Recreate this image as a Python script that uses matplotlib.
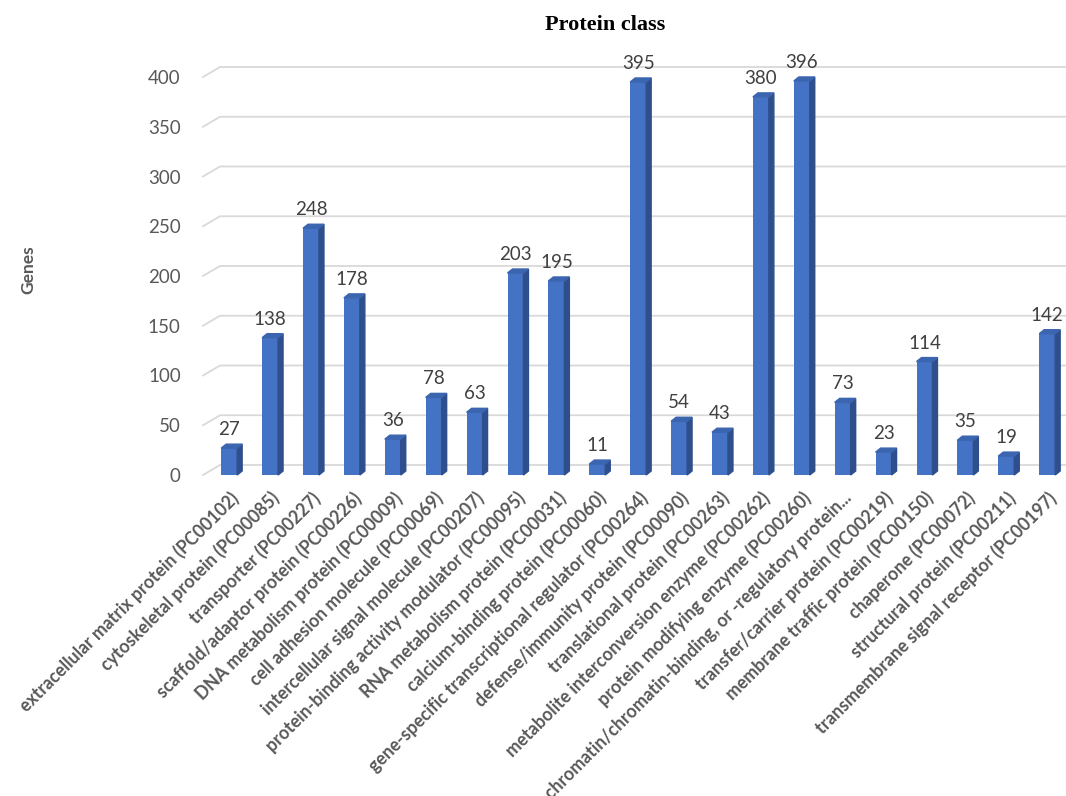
import matplotlib
matplotlib.use("Agg")
import matplotlib.pyplot as plt
from matplotlib.patches import Polygon

categories = [
    "extracellular matrix protein (PC00102)",
    "cytoskeletal protein (PC00085)",
    "transporter (PC00227)",
    "scaffold/adaptor protein (PC00226)",
    "DNA metabolism protein (PC00009)",
    "cell adhesion molecule (PC00069)",
    "intercellular signal molecule (PC00207)",
    "protein-binding activity modulator (PC00095)",
    "RNA metabolism protein (PC00031)",
    "calcium-binding protein (PC00060)",
    "gene-specific transcriptional regulator (PC00264)",
    "defense/immunity protein (PC00090)",
    "translational protein (PC00263)",
    "metabolite interconversion enzyme (PC00262)",
    "protein modifying enzyme (PC00260)",
    "chromatin/chromatin-binding, or -regulatory protein...",
    "transfer/carrier protein (PC00219)",
    "membrane traffic protein (PC00150)",
    "chaperone (PC00072)",
    "structural protein (PC00211)",
    "transmembrane signal receptor (PC00197)",
]
genes = [27, 138, 248, 178, 36, 78, 63, 203, 195, 11, 395,
         54, 43, 380, 396, 73, 23, 114, 35, 19, 142]
yticks = [0, 50, 100, 150, 200, 250, 300, 350, 400]

W, H = 1066, 796
fig = plt.figure(figsize=(W / 100, H / 100), dpi=100)
ax = fig.add_axes([203 / W, 321 / H, (W - 203) / W, 398 / H])
x0, x1 = -0.64, 20.46
ax.set_xlim(x0, x1)
ax.set_ylim(0, 400)
for s in ax.spines.values():
    s.set_visible(False)

# pixel -> data unit conversions for the pseudo-3D depth
ux = (x1 - x0) / (W - 203)
uy = 400 / 398
wall_dx, wall_dy = 17 * ux, 10 * uy
bar_dx, bar_dy = 5 * ux, 4 * uy

grid_c = "#D9D9D9"
for t in yticks:
    ax.plot([x0, x0 + wall_dx, x1 + 1], [t, t + wall_dy, t + wall_dy],
            color=grid_c, lw=1.3, clip_on=False, zorder=0)

front_c, side_c, top_c = "#4472C4", "#2E4F8C", "#3C65B0"
bw = 0.39
xs = list(range(len(categories)))
ax.bar(xs, genes, width=bw, color=front_c, zorder=2)
for x, v in zip(xs, genes):
    l, r = x - bw / 2, x + bw / 2
    ax.add_patch(Polygon([(r, 0), (r + bar_dx, bar_dy), (r + bar_dx, v + bar_dy), (r, v)],
                         closed=True, color=side_c, zorder=2, clip_on=False))
    ax.add_patch(Polygon([(l, v), (l + bar_dx, v + bar_dy), (r + bar_dx, v + bar_dy), (r, v)],
                         closed=True, color=top_c, zorder=2, clip_on=False))
    ax.text(x, v + bar_dy + 6, str(v), ha="center", va="bottom",
            fontsize=13.5, color="#404040", family="Lato")

ax.set_yticks(yticks)
ax.set_yticklabels([str(t) for t in yticks], fontsize=13.5, color="#595959", family="Lato")
ax.tick_params(axis="y", length=0, pad=16)
ax.set_xticks(xs)
ax.set_xticklabels(categories, rotation=45, ha="right", rotation_mode="anchor",
                   fontsize=12.7, color="#595959", family="Lato", fontweight="bold")
ax.tick_params(axis="x", length=0, pad=10)

fig.text(28 / W, 1 - 270 / H, "Genes", rotation=90, ha="center", va="center",
         fontsize=12.5, fontweight="bold", color="#595959", family="Lato")
fig.text(605 / W, 1 - 25 / H, "Protein class", ha="center", va="center",
         fontsize=16, fontweight="bold", color="black", family="Liberation Serif")

fig.savefig("out.png", dpi=100)
